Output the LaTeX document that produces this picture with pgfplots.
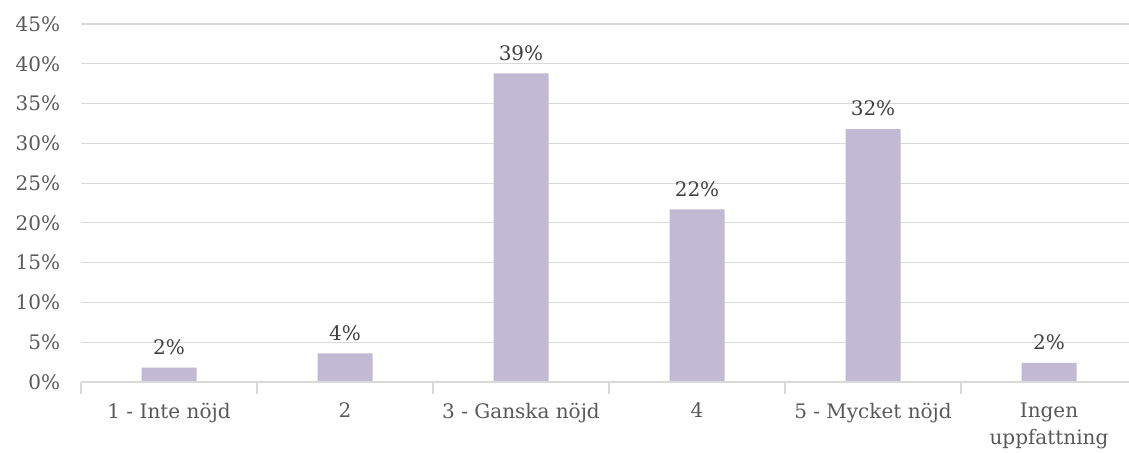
\documentclass[border=0pt]{standalone}
\usepackage{pgfplots}
\pgfplotsset{compat=1.18}
\usepackage{fontspec}
\setmainfont{DejaVu Serif}
\definecolor{barc}{HTML}{C2B9D4}
\definecolor{gridc}{HTML}{D9D9D9}
\definecolor{txtc}{HTML}{595959}
\definecolor{lblc}{HTML}{404040}
\begin{document}
\fontsize{20pt}{26pt}\selectfont
\begin{tikzpicture}
\begin{axis}[
  name=ax,
  scale only axis,
  width=1056pt, height=358pt,
  xmin=-0.5, xmax=5.5,
  ymin=0, ymax=45,
  ybar, bar width=55pt,
  axis line style={draw=none},
  ytick={0,5,...,45},
  yticklabel={\pgfmathprintnumber{\tick}\%},
  /pgf/number format/assume math mode=true,
  ymajorgrids, grid style={gridc, line width=1.2pt},
  ytick style={draw=none},
  yticklabel style={font=\fontsize{20pt}{24pt}\selectfont, text=txtc, xshift=-14pt},
  xtick pos=bottom,
  xtick={0,1,2,3,4,5},
  xticklabels={1 - Inte nöjd, 2, 3 - Ganska nöjd, 4, 5 - Mycket nöjd, {Ingen\\uppfattning}},
  xticklabel style={font=\fontsize{20pt}{27pt}\selectfont, text=txtc, align=center, anchor=north, yshift=-10pt},
  xtick style={draw=none},
  extra x ticks={-0.5,0.5,1.5,2.5,3.5,4.5},
  extra x tick labels={},
  extra x tick style={xtick style={draw=gridc, line width=1.2pt}, major tick length=12pt, tick align=outside, grid=none},
  nodes near coords={\pgfmathprintnumber[fixed,precision=0]{\pgfplotspointmeta}\%},
  nodes near coords style={font=\fontsize{20pt}{24pt}\selectfont, text=lblc, anchor=south, yshift=6pt},
  clip=false,
]
\addplot[fill=barc, draw=none] coordinates {(0,1.8) (1,3.6) (2,38.8) (3,21.7) (4,31.8) (5,2.4)};
\draw[gridc, line width=1.2pt] (axis cs:-0.5,0) -- (axis cs:5.5,0);
\end{axis}
\pgfresetboundingbox
\path[use as bounding box] ([shift={(-81pt,-70pt)}]ax.south west) rectangle ([shift={(-8pt,24pt)}]ax.north east);
\end{tikzpicture}
\end{document}
